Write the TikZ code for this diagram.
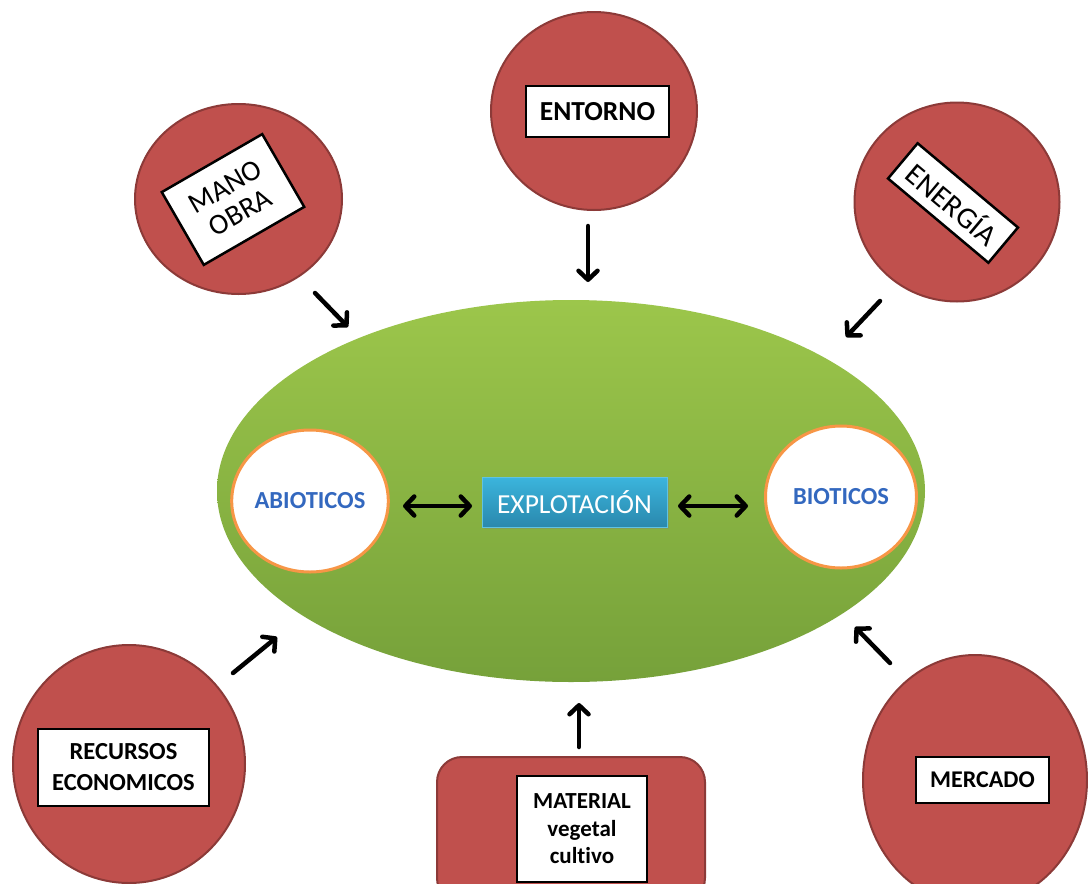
\documentclass[tikz,border=0pt]{standalone}
\usepackage{fontspec}
\setmainfont{Carlito}[Ligatures=NoCommon]
\usetikzlibrary{arrows.meta,shapes.geometric,shadows}

\definecolor{redfill}{HTML}{C0504D}
\definecolor{redline}{HTML}{8C3A38}
\definecolor{greentop}{HTML}{9CC64B}
\definecolor{greenbot}{HTML}{76A13A}
\definecolor{ringorange}{HTML}{F79646}
\definecolor{bluetext}{HTML}{3368BF}
\definecolor{tealtop}{HTML}{3BB5DD}
\definecolor{tealbot}{HTML}{2A88AD}
\definecolor{tealline}{HTML}{5FC3E2}

\begin{document}
\begin{tikzpicture}[x=1pt,y=-1pt,
  redball/.style={ellipse, fill=redfill, draw=redline, line width=2pt, inner sep=0pt},
  tagbox/.style={rectangle, fill=white, draw=black, line width=2.5pt, inner sep=0pt, align=center},
  ring/.style={ellipse, fill=white, draw=ringorange, line width=3pt, inner sep=0pt,
    font=\fontsize{24.5}{26}\selectfont\bfseries, text=bluetext},
  flow/.style={line width=4.5pt, line cap=round, -{Straight Barb[round, length=9pt, width=19pt]}},
  twoway/.style={line width=4.5pt, line cap=round,
    {Straight Barb[round, length=9pt, width=19pt]}-{Straight Barb[round, length=9pt, width=19pt]}}
]
\clip (0,0) rectangle (1088,884);
\fill[white] (0,0) rectangle (1088,884);

% central field
\node[ellipse, minimum width=708, minimum height=382, inner sep=0pt,
  top color=greentop, bottom color=greenbot, draw=none] (campo) at (571,491) {};

\node[ring, minimum width=152, minimum height=142] (abio) at (310,501) {ABIOTICOS};
\node[ring, minimum width=151, minimum height=142] (bio) at (841,497) {BIOTICOS};

\node[rectangle, minimum width=185, minimum height=50, inner sep=0pt,
  top color=tealtop, bottom color=tealbot, draw=tealline, line width=0.8pt,
  drop shadow={shadow xshift=1.5pt, shadow yshift=-2pt, opacity=0.35},
  text=white, font=\fontsize{27.5}{30}\selectfont] (expl) at (574.5,502) {EXPLOTACIÓN};

% surrounding factors
\node[redball, minimum width=206, minimum height=198] (entornoC) at (594,111) {};
\node[tagbox, minimum width=143, minimum height=51, font=\fontsize{27.5}{30}\selectfont\bfseries]
  (entorno) at (597.5,111.5) {ENTORNO};

\node[redball, minimum width=207, minimum height=190] (manoC) at (238.5,199) {};
\node[tagbox, minimum width=116, minimum height=84, rotate=30, font=\fontsize{29}{30}\selectfont]
  (mano) at (233,199.5) {MANO\\OBRA};

\node[redball, minimum width=205, minimum height=199] (energiaC) at (957,202) {};
\node[tagbox, minimum width=131, minimum height=46, rotate=-40, font=\fontsize{30}{32}\selectfont]
  (energia) at (953,203) {ENERGÍA};

\node[redball, minimum width=232, minimum height=238] (recursosC) at (129,764) {};
\node[tagbox, minimum width=171, minimum height=77, font=\fontsize{24.5}{31}\selectfont\bfseries]
  (recursos) at (123.5,767.5) {RECURSOS\\ECONOMICOS};

\node[redball, minimum width=224, minimum height=250] (mercadoC) at (975,780) {};
\node[tagbox, minimum width=133, minimum height=46, font=\fontsize{24}{26}\selectfont\bfseries]
  (mercado) at (982.5,780) {MERCADO};

\node[rectangle, rounded corners=25pt, fill=redfill, draw=redline, line width=2pt,
  minimum width=268, minimum height=146, inner sep=0pt] (materialC) at (571,830) {};
\node[tagbox, minimum width=130, minimum height=106, font=\fontsize{23}{27.5}\selectfont\bfseries]
  (material) at (582,829) {MATERIAL\\vegetal\\cultivo};

% arrow ends
\coordinate (m1) at (315,293);  \coordinate (m2) at (348,327);
\coordinate (e1) at (588,226);  \coordinate (e2) at (588,282);
\coordinate (g1) at (880,301);  \coordinate (g2) at (846,337);
\coordinate (r1) at (233,673);  \coordinate (r2) at (277,637);
\coordinate (v1) at (579,747);  \coordinate (v2) at (579,703);
\coordinate (k1) at (890,663);  \coordinate (k2) at (855,627);
\coordinate (la) at (403,506);  \coordinate (lb) at (472,506);
\coordinate (ra) at (678,506);  \coordinate (rb) at (748,506);

\draw[flow] (m1) -- (m2);
\draw[flow] (e1) -- (e2);
\draw[flow] (g1) -- (g2);
\draw[flow] (r1) -- (r2);
\draw[flow] (v1) -- (v2);
\draw[flow] (k1) -- (k2);
\draw[twoway] (la) -- (lb);
\draw[twoway] (ra) -- (rb);
\end{tikzpicture}
\end{document}
